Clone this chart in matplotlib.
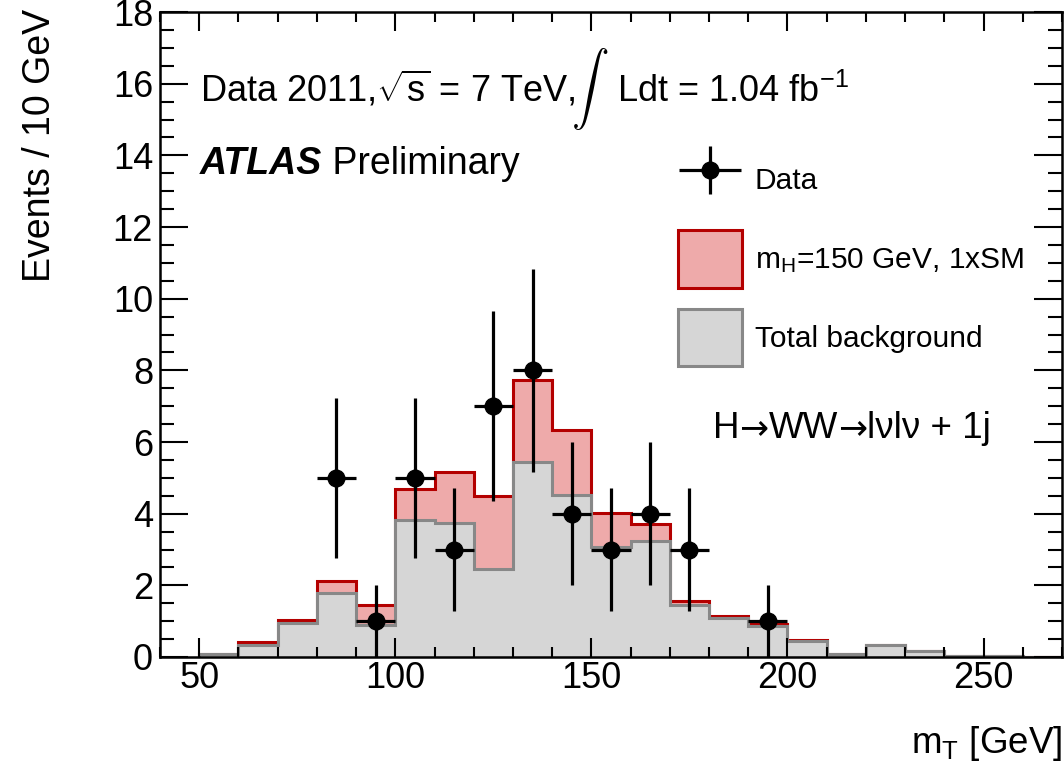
import matplotlib
matplotlib.use('Agg')
import matplotlib.pyplot as plt
from matplotlib.container import ErrorbarContainer
from matplotlib.legend_handler import HandlerErrorbar
from matplotlib.patches import Patch
from matplotlib.ticker import MultipleLocator

# bin edges of the m_T histogram (10 GeV bins)
bin_edges = [50, 60, 70, 80, 90, 100, 110, 120, 130, 140, 150, 160, 170,
             180, 190, 200, 210, 220, 230, 240, 250, 260, 270]

# total background per bin
background = [0.08, 0.34, 0.96, 1.80, 0.90, 3.81, 3.74, 2.45, 5.44, 4.53, 3.06,
              3.25, 1.46, 1.10, 0.87, 0.45, 0.07, 0.33, 0.17, 0.02, 0.02, 0.0]
# background + m_H=150 GeV signal per bin
signal_plus_bkg = [0.08, 0.43, 1.04, 2.11, 1.45, 4.70, 5.16, 4.49, 7.73, 6.33, 4.03,
                   3.72, 1.57, 1.15, 0.92, 0.47, 0.07, 0.33, 0.17, 0.02, 0.02, 0.0]

# observed data
data_x = [85, 95, 105, 115, 125, 135, 145, 155, 165, 175, 195]
data_y = [5, 1, 5, 3, 7, 8, 4, 3, 4, 3, 1]
data_err = [2.24, 1.0, 2.24, 1.73, 2.65, 2.83, 2.0, 1.73, 2.0, 1.73, 1.0]
data_xerr = [5, 5, 5, 5, 5, 5, 5, 5, 5, 5, 5]

plt.rcParams['font.family'] = ['Liberation Sans', 'DejaVu Sans']
plt.rcParams['mathtext.fontset'] = 'custom'
plt.rcParams['mathtext.rm'] = 'Liberation Sans'
plt.rcParams['mathtext.it'] = 'Liberation Sans:italic'
plt.rcParams['mathtext.bf'] = 'Liberation Sans:bold'

red_fill = '#eeaaaa'
red_edge = '#b40000'
gray_fill = '#d6d6d6'
gray_edge = '#888888'

fig = plt.figure(figsize=(10.64, 7.66), dpi=100)
ax = fig.add_axes([0.1504, 0.1423, 0.8477, 0.842])

ax.stairs(signal_plus_bkg, bin_edges, fill=True, facecolor=red_fill,
          edgecolor=red_edge, linewidth=2.2)
ax.stairs(background, bin_edges, fill=True, facecolor=gray_fill,
          edgecolor=gray_edge, linewidth=2.2)

eb = ax.errorbar(data_x, data_y, yerr=data_err, xerr=data_xerr, fmt='o',
                 color='black', markersize=12, elinewidth=2.3, capsize=0,
                 zorder=5)

ax.set_xlim(40, 270)
ax.set_ylim(0, 18)
ax.xaxis.set_major_locator(MultipleLocator(50))
ax.xaxis.set_minor_locator(MultipleLocator(10))
ax.yaxis.set_major_locator(MultipleLocator(2))
ax.yaxis.set_minor_locator(MultipleLocator(0.5))
ax.tick_params(which='both', direction='in', top=True, right=True, width=1.5)
ax.tick_params(axis='x', which='major', length=14, labelsize=26, pad=3)
ax.tick_params(axis='x', which='minor', length=7)
ax.tick_params(axis='y', which='major', length=20, labelsize=26, pad=5)
ax.tick_params(axis='y', which='minor', length=10)
for s in ax.spines.values():
    s.set_linewidth(1.8)

fig.text(0.998, 0.017, r'm$_\mathrm{T}$ [GeV]', ha='right', va='baseline',
         fontsize=26.5)
fig.text(0.038, 0.988, 'Events / 10 GeV', rotation=90, ha='center', va='top',
         fontsize=27)


def after(prev, s, y, dx=0, **kw):
    # put a text piece right after another one, on the same baseline
    return ax.annotate(s, xy=(1, y), xycoords=(prev, 'data'),
                       xytext=(dx, 0), textcoords='offset points',
                       va='baseline', ha='left', **kw)


# first line: Data 2011, sqrt(s), integrated luminosity
line1_y = 15.5
t_a = ax.text(50.2, line1_y, r'Data 2011,$\sqrt{\mathrm{s}}$ = 7 TeV,',
              fontsize=26, va='baseline')
t_int = after(t_a, r'$\int$', line1_y, dx=-3, fontsize=27, math_fontfamily='cm')
after(t_int, r' Ldt = 1.04 fb$^{\mathrm{-1}}$', line1_y, dx=-1, fontsize=26)

t1 = ax.text(50.2, 13.47, 'ATLAS', fontsize=27, fontweight='bold',
             fontstyle='italic', va='baseline')
after(t1, ' Preliminary', 13.47, fontsize=27)

# channel label, arrows from DejaVu Sans
ch_y = 6.1
p = ax.text(181, ch_y, 'H', fontsize=26.5, va='baseline')
p = after(p, '→', ch_y, fontsize=25, family='DejaVu Sans')
p = after(p, 'WW', ch_y, fontsize=26.5)
p = after(p, '→', ch_y, fontsize=25, family='DejaVu Sans')
p = after(p, 'lνlν + 1j', ch_y, fontsize=26.5)

handles = [eb,
           Patch(facecolor=red_fill, edgecolor=red_edge, linewidth=2.2),
           Patch(facecolor=gray_fill, edgecolor=gray_edge, linewidth=2.2)]
labels = ['Data', r'm$_\mathrm{H}$=150 GeV, 1xSM', 'Total background']
ax.legend(handles, labels, loc='upper left', bbox_to_anchor=(0.574, 0.784),
          frameon=False, fontsize=21.5, handlelength=2.14, handleheight=2.6,
          labelspacing=0.70, handletextpad=0.44, borderaxespad=0, borderpad=0,
          handler_map={ErrorbarContainer: HandlerErrorbar(xerr_size=1.04,
                                                          yerr_size=0.80)})

fig.savefig('out.png', dpi=100)
